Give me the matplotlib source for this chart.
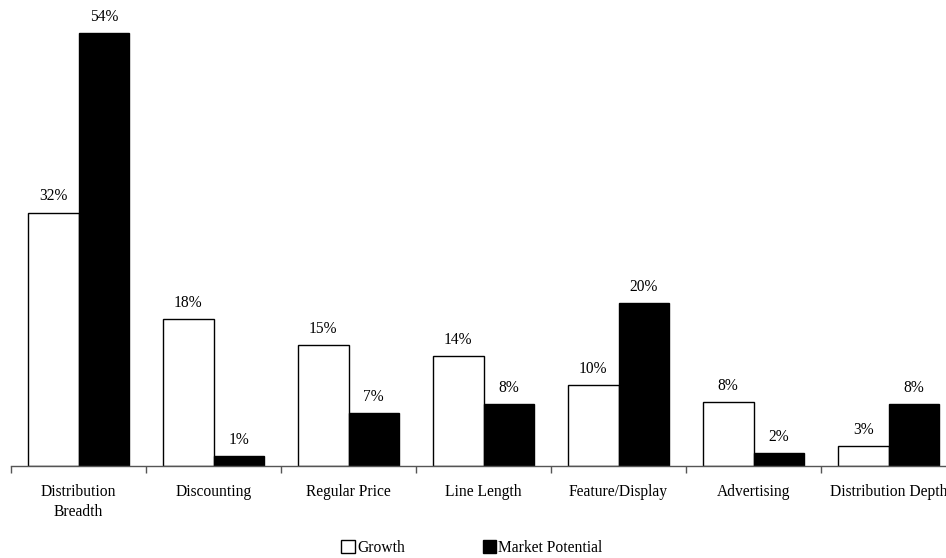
import matplotlib
matplotlib.use("Agg")
import matplotlib.pyplot as plt
import numpy as np
from matplotlib.patches import Patch

categories = ["Distribution\nBreadth", "Discounting", "Regular Price", "Line Length",
              "Feature/Display", "Advertising", "Distribution Depth"]
growth = [31.6, 18.3, 15.1, 13.7, 10.1, 8.0, 2.5]
market_potential = [54.0, 1.2, 6.6, 7.7, 20.3, 1.6, 7.7]
growth_labels = ["32%", "18%", "15%", "14%", "10%", "8%", "3%"]
mp_labels = ["54%", "1%", "7%", "8%", "20%", "2%", "8%"]

plt.rcParams['font.family'] = ['Liberation Serif', 'DejaVu Serif']

fs = 11.2
fig = plt.figure(figsize=(9.46, 5.58), dpi=100)
W, H = 946, 558
left, right = 11, 956
bottom, top = 466, 20
ax = fig.add_axes([left / W, (H - bottom) / H, (right - left) / W, (bottom - top) / H])

x = np.arange(len(categories))
bw = 0.375
b1 = ax.bar(x - bw / 2, growth, bw, color="white", edgecolor="black", linewidth=1.0)
b2 = ax.bar(x + bw / 2, market_potential, bw, color="black", edgecolor="black", linewidth=1.0)

for rect, lab in zip(b1, growth_labels):
    ax.annotate(lab, (rect.get_x() + rect.get_width() / 2, rect.get_height()),
                xytext=(0, 6), textcoords="offset points", ha="center", va="bottom", fontsize=fs)
for rect, lab in zip(b2, mp_labels):
    ax.annotate(lab, (rect.get_x() + rect.get_width() / 2, rect.get_height()),
                xytext=(0, 6), textcoords="offset points", ha="center", va="bottom", fontsize=fs)

ax.set_xlim(-0.5, len(categories) - 0.5)
ax.set_ylim(0, (bottom - top) / (433 / 54.0))

for s in ["top", "right", "left"]:
    ax.spines[s].set_visible(False)
ax.spines["bottom"].set_color("#555555")
ax.spines["bottom"].set_linewidth(1.0)
ax.set_yticks([])
ax.set_xticks(x)
ax.set_xticklabels(categories, fontsize=fs, linespacing=1.3)
ax.tick_params(axis="x", which="major", length=0, pad=13)
ax.set_xticks(np.arange(-0.5, len(categories), 1.0), minor=True)
ax.tick_params(axis="x", which="minor", length=5, width=1.0, color="#555555", direction="out")

handles = [Patch(facecolor="white", edgecolor="black", linewidth=1.0),
           Patch(facecolor="black", edgecolor="black", linewidth=1.0)]
fig.legend(handles, ["Growth", "Market Potential"], loc="center", bbox_to_anchor=(472 / W, (H - 548) / H),
           ncol=2, frameon=False, fontsize=fs, handlelength=0.85, handleheight=0.85,
           handletextpad=0.15, columnspacing=5.0)

fig.savefig("out.png", dpi=100)
